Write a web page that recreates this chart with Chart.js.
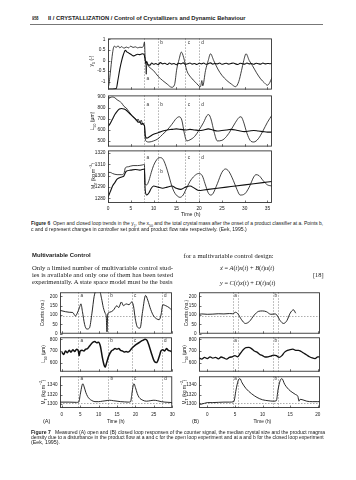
<!DOCTYPE html>
<html><head><meta charset="utf-8">
<script src="https://cdn.jsdelivr.net/npm/chart.js@4.4.1/dist/chart.umd.min.js"></script>
<style>
body{margin:0;background:#fff;}
#page{position:relative;width:356px;height:480px;overflow:hidden;background:#fff;}
.t{position:absolute;white-space:nowrap;transform-origin:0 0;color:#1a1a1a;line-height:1.2;}
.sans{font-family:"Liberation Sans",Arial,sans-serif;}
.serif{font-family:"Liberation Serif","Times New Roman",serif;}
.rot{position:absolute;white-space:nowrap;color:#1a1a1a;font-family:"Liberation Sans",Arial,sans-serif;line-height:1;transform:translate(-50%,-50%) rotate(-90deg);}
.pnl{position:absolute;}
sub,sup{font-size:70%;line-height:0;}
</style></head><body><div id="page"></div>
<script>
// ================= DATA =================
// Figure 6 (time in h)
const f6TimeTicks = [0,5,10,15,20,25,30,35];
const f6Y1Ticks = [1,0.5,0,-0.5,-1];
const f6L50Ticks = [900,800,700,600,500];
const f6MTTicks = [1320,1310,1300,1290,1280];
const f6Events = [8,11,17,20];
const f6EventNames = ['a','b','c','d'];

const f6Y1OpenT = [0,0.2,0.4,0.6,0.8,1.0,1.2,1.4,1.8,2.2,2.6,3.0,3.5,4.0,4.5,5.0,5.5,6.0,6.5,7.0,7.5,7.8,8.0,8.15,8.3,8.4,8.5,9.0,10.0,11.0,12,13,14,14.6,15.1,15.6,16.1,16.6,17.3,18.2,19.2,20.3,20.6,20.8,21.4,22.0,22.5,23.2,24.1,25.0,26.1,27.1,28.0,28.7,29.3,29.8,30.3,31.0,31.7,32.6,33.5,34.3,35.0,35.5,36.0];
const f6Y1OpenV = [-1.3,-1.15,-0.8,-0.4,0.0,0.35,0.6,0.68,0.62,0.7,0.6,0.66,0.58,0.64,0.6,0.68,0.62,0.65,0.6,0.63,0.62,0.7,0.87,0.2,-0.1,-0.65,-0.15,-0.3,-0.48,-0.75,-0.95,-1.12,-1.27,-1.15,-0.4,0.05,0.4,0.15,-0.48,-0.8,-1.03,-1.24,-0.95,-1.2,-0.48,0.0,0.32,0.0,-0.4,-0.7,-0.95,-1.12,-1.24,-1.0,-0.48,0.0,0.32,0.0,-0.24,-0.58,-0.87,-1.05,-1.17,-1.05,-0.8];
const f6Y1ClosedT = [0,1,1.8,2.2,2.6,3.0,3.4,3.8,4.2,4.6,5.0,5.5,6.0,6.5,7.0,7.5,7.9,8.1,8.3,8.5,8.8,9.2,9.6,10,10.5,11,11.5,12,12.5,13,13.5,14,14.5,15,15.5,16,16.5,17,17.5,18,18.5,19,19.5,20,20.5,21,21.5,22,22.5,23,23.5,24,24.5,25,25.5,26,26.5,27,27.5,28,28.5,29,29.5,30,30.5,31,31.5,32,32.5,33,33.5,34,34.5,35,35.5,36];
const f6Y1ClosedV = [-1.35,-1.35,-1.33,-0.9,-0.4,0.0,0.3,0.48,0.4,0.35,0.3,0.22,0.25,0.3,0.28,0.32,0.3,0.1,-0.15,-0.05,-0.2,-0.22,-0.12,-0.18,-0.14,-0.2,-0.1,-0.16,-0.13,-0.19,-0.12,-0.17,-0.14,-0.2,-0.13,-0.16,-0.11,-0.18,-0.15,-0.12,-0.17,-0.14,-0.19,-0.13,-0.16,-0.12,-0.18,-0.15,-0.11,-0.17,-0.14,-0.16,-0.12,-0.18,-0.15,-0.13,-0.17,-0.14,-0.12,-0.16,-0.19,-0.13,-0.15,-0.17,-0.12,-0.16,-0.14,-0.18,-0.13,-0.15,-0.17,-0.12,-0.16,-0.14,-0.15,-0.13];

const f6L50OpenT = [0,0.5,1,1.5,2,2.5,3,3.5,4,4.5,5,5.5,6,6.3,6.6,7,7.3,7.6,8.0,8.1,8.3,9,10,11,12,13,14,15,15.6,16.2,16.8,17.3,18,19,20,21,21.7,22.1,22.6,23.3,24,25,26,27,28,28.8,29.2,29.7,30.5,31.2,32,33,34,35,36];
const f6L50OpenV = [880,895,900,893,875,862,845,815,800,772,745,720,705,680,700,665,690,650,640,560,500,490,500,520,560,600,650,705,720,690,560,500,510,540,600,670,730,740,700,580,500,505,540,600,670,715,720,680,570,505,490,520,590,670,735];
const f6L50ClosedT = [0,0.5,1,1.5,2,2.5,3,3.5,4,4.5,5,5.5,6,6.3,6.6,7,7.3,7.6,8.0,8.2,8.5,9,10,11,12,13,14,15,16,17,18,19,20,21,22,23,24,25,26,27,28,29,30,31,32,33,34,35,36];
const f6L50ClosedV = [630,660,700,740,770,790,795,790,780,760,740,720,700,690,670,675,650,660,640,545,525,535,560,575,590,600,605,610,605,600,605,600,595,600,610,600,590,595,600,605,600,590,585,590,595,590,585,580,580];

const f6MTOpenT = [0,0.5,1,2,3,3.5,3.8,4.5,5.5,6.5,7.5,8,8.1,8.5,9,9.5,10,10.5,11,11.5,12,12.5,13,13.5,14,14.5,15,15.8,16.5,17,18,19,19.9,20.7,21.3,22,22.5,23,24,25,25.8,26.5,27.5,28.3,29,30,31,32,32.5,33.2,34,35,36];
const f6MTOpenV = [1303,1303,1302,1301,1301,1302,1307,1308,1309,1309,1309.5,1310,1293,1292,1296,1303,1309,1313,1315.5,1316,1315,1311,1305,1298,1291,1286,1283,1281,1283,1287,1295,1300,1302,1300,1293,1285,1283,1284,1293,1303,1306,1304,1296,1288,1283,1284,1290,1299,1301,1300,1296,1292,1291];
const f6MTClosedT = [0,0.5,1,1.5,2,3,3.5,4,5,6,7,8,8.15,8.5,9,9.5,10,11,12,13,14,15,16,17,18,19,20,21,22,24,26,28,30,32,34,36];
const f6MTClosedV = [1281,1286,1291,1294,1297,1299,1300,1304,1305,1305.5,1305,1306,1288,1283,1285,1289,1291,1290,1289,1290,1291,1289,1288,1290,1291,1289,1287,1287.5,1288,1289,1290,1291,1292,1293,1294,1295];

// Figure 7
const f7aTimeTicks = [0,5,10,15,20,25,30];
const f7bTimeTicks = [0,5,10,15,20];
const f7CountTicks = [200,150,100,50,0];
const f7L50Ticks = [800,700,600];
const f7MTTicks = [1340,1320,1300];
const f7aEvents = [4.5,12.6,19.0,27.2];
const f7aEventNames = ['a','b','c','d'];
const f7bEvents = [4.6,5.55,11.9,12.85];
const f7bEventNames = ['a','b'];
const f7bEventLabelAt = [5.1,12.4];
const f7CountSetpoint = [95];
const f7MTBaseline = [1302];

const f7aCountsT = [-0.5,1,2,3,3.7,4.2,4.8,5.2,5.6,6.2,6.8,7.5,8.2,8.8,9.3,10.3,10.8,11.3,11.8,12.1,12.3,12.5,13,14,15,15.5,16.2,16.8,17.5,18.3,19,19.5,20,20.6,21.3,22,22.8,23.4,24.2,25,25.8,26.5,27,27.5,28.3,29.2,30];
const f7aCountsV = [125,118,115,113,95,110,140,160,120,50,25,30,110,200,228,228,190,140,110,90,10,105,115,125,150,140,170,150,160,155,170,150,80,35,30,120,205,180,130,95,80,75,100,155,150,140,125];
const f7aL50T = [0,0.5,1,1.5,2,2.5,3,3.5,4,4.5,4.7,5,5.5,6,6.5,7,7.5,8,8.5,9,9.5,10,10.5,11,11.5,11.8,12.2,12.8,13.5,14,14.5,15,15.5,16,16.5,17,17.5,18,18.5,19,20,21,22,22.7,23.2,23.8,24.5,25.2,25.8,26.5,27,27.5,28,28.5,29,29.5,30];
const f7aL50V = [690,670,700,685,705,690,710,695,715,700,660,700,705,700,715,720,740,760,775,780,770,775,740,650,580,560,600,660,700,710,720,715,720,705,700,690,695,690,700,720,750,770,790,800,790,740,670,610,600,650,700,710,700,720,705,700,690];
const f7aMTT = [-0.5,2,4,4.6,5,5.5,5.7,6,6.5,7,7.5,8,9,10,11,12,13,14,15,16,17,18,18.7,19,19.4,19.6,20,20.5,21,22,23,24,25,26,27,28,30];
const f7aMTV = [1304,1304,1303.5,1304,1320,1340,1343,1338,1325,1316,1311,1308,1305,1305,1306,1307,1308,1307,1306,1305,1304.5,1304,1305,1320,1340,1343,1335,1322,1314,1308,1306,1307,1308,1307,1305,1304,1303];

const f7bCountsT = [-1.5,-1,0,1,2,3,4,4.6,5.1,5.5,6.2,6.9,7.6,8.5,9.3,10,10.7,11.5,12.3,12.6,13.2,13.8,14.4,15,15.6,16];
const f7bCountsV = [104,106,104,105,107,106,108,107,115,108,75,55,65,100,120,122,118,104,106,100,70,55,70,110,128,110];
const f7bL50T = [-1.5,-1,-0.5,0,0.5,1,1.5,2,2.5,3,3.5,4,4.5,5,5.5,6,6.5,7,7.5,8,8.5,9,9.5,10,10.5,11,11.5,12,12.5,13,13.5,14,14.5,15,15.5,16,16.5,17,17.5,18,18.5,19,19.5,20,20.4];
const f7bL50V = [640,630,645,635,650,638,645,632,648,640,630,645,650,660,650,680,710,728,730,720,700,690,670,660,648,650,655,665,660,645,660,690,705,712,715,705,705,695,680,665,650,640,635,650,648];
const f7bMTT = [-1.5,-1,0,1,2,3,4,4.8,5.2,5.6,5.9,6.3,7,8,9,10,11,12,12.5,12.8,13.2,13.5,14,14.5,15,16,16.4,16.6,16.8,17.5,18,19,20,20.4];
const f7bMTV = [1302,1300,1303,1303,1303.5,1304,1304,1305,1330,1350,1354,1345,1333,1322,1314,1309,1307,1306,1307,1330,1350,1354,1342,1334,1328,1320,1316,1306,1310,1308,1306,1305,1305,1305];

// ================= RENDER =================
const page = document.getElementById('page');
const SANS = "'Liberation Sans', Arial, sans-serif";
Chart.defaults.font.family = SANS;
Chart.defaults.color = '#1a1a1a';
Chart.defaults.animation = false;

function pts(T, V){ const n=Math.min(T.length,V.length); const a=[]; for(let i=0;i<n;i++) a.push({x:T[i],y:V[i]}); return a; }
function line(T,V,w){ return {data:pts(T,V), borderColor:'#111', borderWidth:w||0.9, pointRadius:0, fill:false, cubicInterpolationMode:'monotone'}; }

const decor = {
  id:'decor',
  beforeDatasetsDraw(chart, args, o){
    const {ctx, chartArea:ca, scales:{x,y}} = chart;
    ctx.save();
    ctx.strokeStyle = '#777'; ctx.lineWidth = 0.6; ctx.setLineDash([1.5,1.5]);
    (o.vlines||[]).forEach(v=>{ const px=Math.round(x.getPixelForValue(v))+0.5; ctx.beginPath(); ctx.moveTo(px,ca.top); ctx.lineTo(px,ca.bottom); ctx.stroke(); });
    (o.hlines||[]).forEach(v=>{ const py=Math.round(y.getPixelForValue(v))+0.5; ctx.beginPath(); ctx.moveTo(ca.left,py); ctx.lineTo(ca.right,py); ctx.stroke(); });
    ctx.restore();
  },
  afterDraw(chart, args, o){
    const {ctx, chartArea:ca, scales:{x,y}} = chart;
    ctx.save();
    ctx.strokeStyle = '#333'; ctx.lineWidth = 0.9; ctx.setLineDash([]);
    ctx.strokeRect(ca.left+0.5, ca.top+0.5, ca.right-ca.left-1, ca.bottom-ca.top-1);
    ctx.beginPath();
    const L = 2.5;
    x.ticks.forEach(t=>{ const px=Math.round(x.getPixelForValue(t.value))+0.5; ctx.moveTo(px,ca.bottom); ctx.lineTo(px,ca.bottom-L); });
    y.ticks.forEach(t=>{ const py=Math.round(y.getPixelForValue(t.value))+0.5; ctx.moveTo(ca.left,py); ctx.lineTo(ca.left+L,py); });
    ctx.lineWidth = 0.7; ctx.stroke();
    ctx.fillStyle = '#333'; ctx.font = (o.lfs||4.8)+'px '+SANS; ctx.textAlign='center'; ctx.textBaseline='middle';
    (o.labels||[]).forEach(l=>{ ctx.fillText(l.t, x.getPixelForValue(l.v)+(l.dx==null?3.5:l.dx), ca.top + l.fy*(ca.bottom-ca.top)); });
    ctx.restore();
  }
};

function build(div, W, H, s){
  div.innerHTML='';
  const c = document.createElement('canvas');
  c.width=W; c.height=H; c.style.width=W+'px'; c.style.height=H+'px';
  div.appendChild(c);
  return new Chart(c, {
    type:'line',
    data:{datasets:s.datasets},
    options:{
      responsive:false, devicePixelRatio:1, animation:false,
      layout:{padding:{left:0,right:5,top:5,bottom:0}},
      plugins:{legend:{display:false}, tooltip:{enabled:false}, decor:s.decor},
      scales:{
        x:{type:'linear', min:s.xmin, max:s.xmax,
           afterBuildTicks:sc=>{ sc.ticks = s.xt.map(v=>({value:v})); },
           afterFit:sc=>{ sc.height = s.xh; },
           grid:{display:false, drawTicks:false}, border:{display:false},
           ticks:{display:!!s.xl, padding:s.xpad||2, autoSkip:false, maxRotation:0, font:{size:s.fs}, color:'#1a1a1a'}},
        y:{type:'linear', min:s.ymin, max:s.ymax,
           afterBuildTicks:sc=>{ sc.ticks = s.yt.map(v=>({value:v})); },
           afterFit:sc=>{ sc.width = s.yw; },
           grid:{display:false, drawTicks:false}, border:{display:false},
           ticks:{padding:2.5, autoSkip:false, font:{size:s.fs}, color:'#1a1a1a', callback:v=>String(v)}}
      }
    },
    plugins:[decor]
  });
}

function panel(s){
  const div = document.createElement('div'); div.className='pnl'; page.appendChild(div);
  const pw = s.r-s.l, ph = s.b-s.t;
  let W = pw + s.yw + 5, H = ph + 5 + s.xh;
  let ch = build(div, W, H, s);
  let ca = ch.chartArea;
  const dw = Math.round(pw-(ca.right-ca.left)), dh = Math.round(ph-(ca.bottom-ca.top));
  if (dw || dh){ ch.destroy(); W+=dw; H+=dh; ch = build(div, W, H, s); ca = ch.chartArea; }
  div.style.left = (s.l-ca.left)+'px'; div.style.top = (s.t-ca.top)+'px';
  return ch;
}

function txt(html, x, yc, size, cls, fitW, extra){
  const d = document.createElement('div');
  d.className = 't '+cls; d.innerHTML = html;
  d.style.fontSize = size+'px'; d.style.left = x+'px'; d.style.top = (yc-size*0.6)+'px';
  if (extra) Object.assign(d.style, extra);
  page.appendChild(d);
  if (fitW){ const w = d.offsetWidth; if (w>0) d.style.transform = 'scaleX('+(fitW/w)+')'; }
  return d;
}
function rot(html, cx, cy, size){
  const d = document.createElement('div'); d.className='rot'; d.innerHTML=html;
  d.style.fontSize=size+'px'; d.style.left=cx+'px'; d.style.top=cy+'px'; page.appendChild(d); return d;
}

// ---------- Header ----------
txt('<b>958</b>', 31.5, 18.3, 5.2, 'sans', 6.8);
txt('<b>II / CRYSTALLIZATION / Control of Crystallizers and Dynamic Behaviour</b>', 48.3, 18.3, 5.2, 'sans', 198);
const rule = document.createElement('div');
Object.assign(rule.style,{position:'absolute',left:'30px',top:'23.5px',width:'293px',height:'1.2px',background:'#777'});
page.appendChild(rule);

// ---------- Figure 6 ----------
const f6common = {l:108, r:272, xmin:0, xmax:36, xt:f6TimeTicks, yw:26, fs:4.8};
const f6lines = f6Events;
panel(Object.assign({}, f6common, {t:38, b:89, ymin:-1.38, ymax:1.05, yt:f6Y1Ticks, xh:0,
  datasets:[line(f6Y1OpenT,f6Y1OpenV,0.8), line(f6Y1ClosedT,f6Y1ClosedV,1.1)],
  decor:{vlines:f6lines, labels:[{t:f6EventNames[0],v:f6Events[0],fy:0.79},{t:f6EventNames[1],v:f6Events[1],fy:0.085},{t:f6EventNames[2],v:f6Events[2],fy:0.085},{t:f6EventNames[3],v:f6Events[3],fy:0.085}]}}));
panel(Object.assign({}, f6common, {t:95, b:146, ymin:448, ymax:915, yt:f6L50Ticks, xh:0,
  datasets:[line(f6L50OpenT,f6L50OpenV,0.8), line(f6L50ClosedT,f6L50ClosedV,1.1)],
  decor:{vlines:f6lines, labels:f6EventNames.map((n,i)=>({t:n,v:f6Events[i],fy:0.19}))}}));
panel(Object.assign({}, f6common, {t:150, b:203, ymin:1276, ymax:1322.4, yt:f6MTTicks, xh:11, xl:true, xpad:2.4,
  datasets:[line(f6MTOpenT,f6MTOpenV,0.8), line(f6MTClosedT,f6MTClosedV,1.1)],
  decor:{vlines:f6lines, labels:[{t:'a',v:f6Events[0],fy:0.13},{t:'b',v:f6Events[1],fy:0.41},{t:'c',v:f6Events[2],fy:0.13},{t:'d',v:f6Events[3],fy:0.13}]}}));
rot('y<sub>1</sub> (-)', 90.5, 61, 5);
rot('L<sub>50</sub> (\u03BCm)', 92, 120.5, 5);
rot('M<sub>T</sub> (kg m<sup>\u22123</sup>)', 92.5, 176, 5);
txt('Time (h)', 180.5, 214.3, 5, 'sans', 19);

// caption 6
txt('<b>Figure 6</b>&nbsp;&nbsp;Open and closed loop trends in the y<sub>1</sub>, the x<sub>50</sub> and the total crystal mass after the onset of a product classifier at a. Points b,', 31, 223.5, 4.6, 'sans', 292);
txt('c and d represent changes in controller set point and product flow rate respectively. (Eek, 1995.)', 31, 229.3, 4.6, 'sans', 215.7);

// ---------- Text ----------
txt('<b>Multivariable Control</b>', 31.5, 255.5, 6, 'sans', 59);
txt('Only a limited number of multivariable control stud-', 31.5, 267.5, 6.6, 'serif', 141);
txt('ies is available and only one of them has been tested', 31.5, 274.7, 6.6, 'serif', 141);
txt('experimentally. A state space model must be the basis', 31.5, 281.9, 6.6, 'serif', 141);
txt('for a multivariable control design:', 183.5, 255.7, 6.6, 'serif', 90);
txt('<i>x</i>\u0307 = <i>A</i>(<i>t</i>)<i>x</i>(<i>t</i>) + <i>B</i>(<i>t</i>)<i>u</i>(<i>t</i>)', 220, 268.3, 6.6, 'serif', 54);
txt('<i>y</i> = <i>C</i>(<i>t</i>)<i>x</i>(<i>t</i>) + <i>D</i>(<i>t</i>)<i>u</i>(<i>t</i>)', 220, 282.7, 6.6, 'serif', 55);
txt('[18]', 312.7, 274.5, 6.6, 'serif', 10.6);

// ---------- Figure 7 (A) ----------
const f7a = {l:60, r:172, xmin:-0.5, xmax:30, xt:f7aTimeTicks, yw:26, fs:4.6};
const f7aLab = fy => f7aEventNames.map((n,i)=>({t:n,v:f7aEvents[i],fy:fy}));
panel(Object.assign({}, f7a, {t:292, b:333, ymin:0, ymax:222, yt:f7CountTicks, xh:0,
  datasets:[line(f7aCountsT,f7aCountsV,0.9)], decor:{vlines:f7aEvents, hlines:f7CountSetpoint, labels:f7aLab(0.08), lfs:4.6}}));
panel(Object.assign({}, f7a, {t:337, b:371, ymin:522, ymax:817, yt:f7L50Ticks, xh:0,
  datasets:[line(f7aL50T,f7aL50V,1.5)], decor:{vlines:f7aEvents, labels:f7aLab(0.1), lfs:4.6}}));
panel(Object.assign({}, f7a, {t:376, b:408, ymin:1291.5, ymax:1359, yt:f7MTTicks, xh:11, xl:true, xpad:4.2,
  datasets:[line(f7aMTT,f7aMTV,0.9)], decor:{vlines:f7aEvents, hlines:f7MTBaseline, labels:f7aLab(0.08), lfs:4.6}}));

// ---------- Figure 7 (B) ----------
const f7b = {l:199, r:320, xmin:-1.5, xmax:20.4, xt:f7bTimeTicks, yw:26, fs:4.6};
const f7bLab = fy => f7bEventNames.map((n,i)=>({t:n,v:f7bEventLabelAt[i],fy:fy,dx:0}));
panel(Object.assign({}, f7b, {t:292, b:333, ymin:0, ymax:222, yt:f7CountTicks, xh:0,
  datasets:[line(f7bCountsT,f7bCountsV,0.9)], decor:{vlines:f7bEvents, hlines:f7CountSetpoint, labels:f7bLab(0.08), lfs:4.6}}));
panel(Object.assign({}, f7b, {t:337, b:371, ymin:522, ymax:817, yt:f7L50Ticks, xh:0,
  datasets:[line(f7bL50T,f7bL50V,1.3)], decor:{vlines:f7bEvents, labels:f7bLab(0.1), lfs:4.6}}));
panel(Object.assign({}, f7b, {t:376, b:408, ymin:1291.5, ymax:1359, yt:f7MTTicks, xh:11, xl:true, xpad:4.2,
  datasets:[line(f7bMTT,f7bMTV,0.9)], decor:{vlines:f7bEvents, hlines:f7MTBaseline, labels:f7bLab(0.08), lfs:4.6}}));

rot('Counts (no.)', 43, 312.5, 4.8);
rot('L<sub>50</sub> (\u03BCm)', 43.5, 354, 4.8);
rot('M<sub>T</sub> (kg m<sup>\u22123</sup>)', 43.5, 392, 4.8);
rot('Counts (no.)', 187, 312.5, 4.8);
rot('L<sub>50</sub> (\u03BCm)', 184.5, 354, 4.8);
rot('M<sub>T</sub> (kg m<sup>\u22123</sup>)', 184.5, 392, 4.8);
txt('(A)', 43, 422.3, 4.8, 'sans', 7);
txt('Time (h)', 107, 422.3, 4.8, 'sans', 18);
txt('(B)', 191.5, 422.3, 4.8, 'sans', 6.5);
txt('Time (h)', 253.5, 422.3, 4.8, 'sans', 18);

// caption 7
txt('<b>Figure 7</b>&nbsp;&nbsp;&nbsp;Measured (A) open and (B) closed loop responses of the counter signal, the median crystal size and the product magma', 31, 432.3, 4.6, 'sans', 294);
txt('density due to a disturbance in the product flow at a and c for the open loop experiment and at a and b for the closed loop experiment', 31, 437.6, 4.6, 'sans', 293);
txt('(Eek, 1995).', 31, 442.9, 4.6, 'sans', 29);
</script>
</body></html>
